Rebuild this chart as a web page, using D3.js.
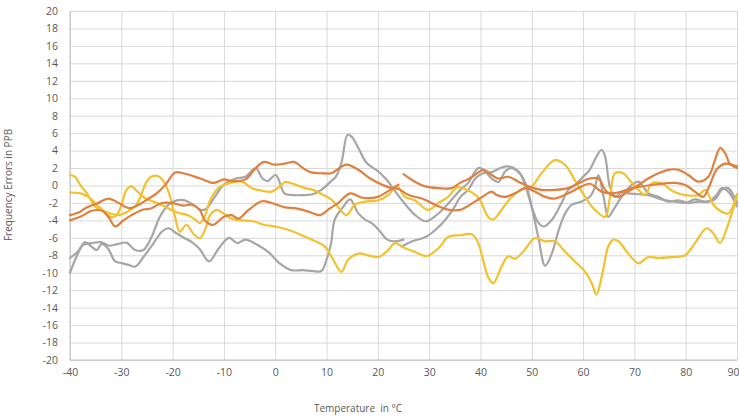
<!DOCTYPE html>
<html>
<head>
<meta charset="utf-8">
<script src="https://cdn.jsdelivr.net/npm/d3@7"></script>
<style>
  html, body { margin: 0; padding: 0; background: #fff; }
  svg { display: block; }
  text { font-family: "Open Sans", "Liberation Sans", sans-serif; fill: #595959; }
</style>
</head>
<body>
<svg id="chart" width="739" height="418"></svg>
<script>
// Axis ticks
const xTicks = [-40, -30, -20, -10, 0, 10, 20, 30, 40, 50, 60, 70, 80, 90];
const yTicks = d3.range(-20, 21, 2);

// Frequency error curves, [temperature °C, error PPB]
const yellowA = [[-40,1.2],[-39,1.0],[-38,0.06],[-36.7,-0.9],[-35.1,-2.4],[-33.8,-2.8],[-32.2,-3.2],[-30.5,-3.4],[-28.8,-3.0],[-27.3,-2.4],[-26.2,-1.2],[-25.2,0.3],[-24.2,1.0],[-23,1.1],[-21.8,0.5],[-20.7,-0.9],[-19.6,-3.4],[-18.6,-5.3],[-17.3,-4.5],[-16,-5.5],[-14.7,-6.05],[-13.7,-5.1],[-12.7,-3.4],[-11.4,-2.8],[-10.1,-3.2],[-8.5,-3.8],[-6.5,-4.0],[-4.3,-4.1],[-2.3,-4.5],[0,-4.7],[2.6,-5.1],[5.2,-5.7],[7.8,-6.4],[9.7,-7.0],[11.3,-8.5],[12.9,-9.9],[14.2,-8.5],[16.2,-7.8],[18.1,-8.0],[20.1,-8.2],[22,-7.4],[23.3,-6.6],[25.3,-7.2],[27.2,-7.6],[29.5,-8.1],[31.8,-7.2],[33.7,-5.9],[36,-5.7],[38.3,-5.6],[39.5,-6.5],[40.5,-8.5],[41.5,-10.5],[42.5,-11.2],[44.1,-9.3],[45.4,-8.1],[46.7,-8.4],[48.3,-7.6],[50.6,-6.05],[52.6,-6.4],[54.5,-6.4],[56.5,-7.6],[58.4,-8.7],[60.4,-9.9],[61.7,-11.2],[62.6,-12.5],[63.9,-9.7],[64.9,-7.0],[65.9,-6.2],[66.9,-6.4],[68.8,-7.8],[70.8,-8.9],[72.7,-8.2],[74.7,-8.3],[77.3,-8.2],[79.9,-8.0],[81.8,-6.6],[84.1,-4.9],[85.4,-5.5],[86.7,-6.6],[88,-4.9],[89.3,-2.6],[90,-1.0]];

const yellowB = [[-40,-0.8],[-38,-0.9],[-36.4,-1.3],[-35.1,-2.0],[-33.5,-2.9],[-32,-3.6],[-30.9,-3.4],[-29.8,-1.9],[-29,-0.5],[-28,-0.1],[-27,-0.6],[-25.5,-1.4],[-23.5,-1.9],[-21.5,-2.4],[-20,-2.9],[-18.5,-3.2],[-17,-3.4],[-15.6,-3.9],[-14.7,-4.3],[-13.7,-3.5],[-12.7,-1.7],[-11.1,-0.3],[-9.1,0.25],[-6.5,0.44],[-4.6,-0.3],[-2.6,-0.6],[-0.7,-0.7],[0.9,-0.1],[1.9,0.4],[3.9,0.1],[5.8,-0.3],[7.4,-0.5],[9.4,-1.1],[10.7,-1.5],[11.6,-2.0],[13.9,-3.4],[15.5,-2.2],[17.5,-1.85],[20.1,-1.7],[22,-1.1],[23.7,-0.1],[25.3,-1.3],[27.2,-1.7],[29.8,-2.8],[31.8,-2.0],[33.7,-1.3],[35.5,-0.2],[37,-0.4],[39.6,-1.4],[41.5,-3.6],[42.5,-3.9],[44.1,-2.8],[46.1,-1.3],[48,-0.5],[50,-0.1],[51.9,1.4],[54.5,2.9],[56.5,2.35],[58.4,0.6],[60.4,-1.3],[62,-2.6],[64.3,-3.6],[65.2,-1.5],[66.2,1.4],[67.8,1.4],[69.1,0.6],[70.8,-0.5],[72.1,-1.1],[73.4,0.25],[75.3,0.25],[77.6,-0.7],[79.9,-1.1],[82.5,-1.1],[83.8,-0.5],[85.4,-2.2],[87,-3.0],[88.3,-3.2],[90,-1.0]];

const orangeA = [[-40,-3.4],[-38,-3.0],[-37,-2.6],[-34.5,-2.0],[-32.5,-1.5],[-30.5,-2.0],[-28.6,-2.6],[-26.6,-2.2],[-24.7,-1.5],[-23.1,-0.9],[-21.4,0.1],[-19.5,1.5],[-17.9,1.4],[-14.6,0.8],[-12,0.3],[-10,0.7],[-8.4,0.5],[-5.8,0.7],[-3.8,2.0],[-2.2,2.7],[-0.2,2.4],[1.8,2.5],[3.7,2.7],[5.4,2.0],[7,1.5],[9.3,1.4],[10.9,1.4],[12,1.8],[13.9,2.4],[16.2,1.8],[18.5,0.8],[20.8,0.1],[22.7,-0.3],[24,-0.4],[26,-1.1],[28.6,-1.5],[31.2,-2.2],[33.2,-2.7],[36,-2.8],[38.9,-1.85],[40.9,-1.1],[42.2,-0.7],[43.2,-1.1],[44.8,-1.3],[46.7,-0.9],[48.7,-0.3],[50.6,-0.7],[52.6,-1.3],[54.5,-1.5],[57.1,-0.9],[59.1,-0.3],[61.3,0.2],[63.6,-0.7],[65.6,-0.9],[67.5,-0.7],[69.5,-0.3],[71.4,-0.1],[73.4,0.06],[76,0.25],[77.9,0.3],[79.9,0.06],[81.8,-0.7],[83.4,-1.3],[84.7,0.06],[86,1.8],[87.7,2.5],[88.9,2.4],[90,2.2]];

const orangeB = [[-40,-4.0],[-37.7,-3.5],[-35.8,-2.9],[-33.8,-2.9],[-32.5,-3.6],[-31.2,-4.7],[-29.6,-4.0],[-28,-3.4],[-26,-2.8],[-24.1,-2.6],[-22.1,-2.0],[-20.2,-2.0],[-17.9,-2.3],[-16.2,-2.2],[-14.7,-2.8],[-13.7,-4.0],[-12.1,-4.5],[-10.1,-3.6],[-8.5,-3.4],[-7.2,-3.8],[-5.2,-2.8],[-2.6,-1.8],[-0.7,-2.0],[1.9,-2.5],[3.9,-2.6],[6.5,-3.0],[8.7,-3.4],[10.7,-2.6],[12.3,-2.0],[14.6,-0.9],[17,-1.4],[20,-1.3],[22.4,-0.5],[24,0.1]];

const orangeC = [[25,1.3],[27.3,0.4],[29.2,-0.1],[31.8,-0.3],[34.4,-0.3],[36,0.3],[37.5,0.7],[38.9,1.2],[40.6,1.8],[42.2,1.2],[43.5,0.8],[45.4,1.0],[47.4,0.44],[49.3,-0.1],[51.9,-0.5],[54.5,-0.5],[57.1,-0.3],[59.1,0.25],[61.3,0.8],[63,0.8],[64.3,-0.5],[65.6,-1.1],[66.9,-1.3],[68.8,-0.7],[70.8,0.06],[72.7,0.8],[74.7,1.4],[76.6,1.8],[78.6,1.8],[80.5,1.2],[82.5,0.44],[84.4,1.0],[85.7,2.9],[86.7,4.3],[87.7,3.7],[88.6,2.5],[90,2.0]];

const grayA = [[-40,-10],[-38.7,-8.1],[-37.4,-6.8],[-35.8,-6.6],[-33.8,-6.5],[-32.5,-6.9],[-30.6,-6.7],[-29,-6.55],[-27.3,-7.4],[-25.7,-7.4],[-24.1,-5.9],[-22.5,-3.6],[-20.8,-2.2],[-19.2,-1.7],[-17.6,-1.7],[-16,-2.2],[-14.5,-2.8],[-13.5,-2.7],[-12,-1.5],[-10,0.1],[-7.7,0.8],[-5.8,1.0],[-3.8,2.0],[-2.5,0.8],[-1.5,0.5],[0.1,1.2],[1.8,-0.9],[3.4,-1.1],[5.4,-1.1],[7.3,-1.0],[9,-0.5],[10.9,0.5],[11.8,1.0],[12.9,2.6],[14.1,5.8],[14.9,5.6],[16.2,4.3],[17.8,2.6],[20.1,1.6],[21.8,0.6],[23.4,-0.7],[25.4,-2.2],[27.3,-3.4],[29.3,-4.1],[31.2,-3.5],[33.2,-2.4],[36.1,-0.5],[37.6,0.3],[39.6,2.0],[40.6,1.8],[42.2,0.8],[43.5,0.4],[44.8,1.6],[46,2.0],[47.5,1.5],[48.8,0.2],[50,-2.5],[51.3,-6.0],[52.6,-9.2],[53.9,-7.8],[55.2,-5.2],[56.5,-3.2],[57.8,-2.2],[59.4,-1.9],[61.3,-1.3],[62.3,-0.2],[63,1.2],[64,-1.3],[64.9,-3.6],[65.9,-2.8],[67.5,-1.3],[69.5,0.06],[70.8,0.44],[71.7,-0.1],[72.7,-0.9],[74.7,-1.3],[76.6,-1.85],[78.6,-1.7],[80.5,-2.0],[82.5,-1.85],[84.4,-1.85],[86,-1.1],[87,-0.3],[88.3,-0.7],[90,-2.4]];

const grayB = [[-40,-8.3],[-38.5,-7.6],[-37.1,-6.5],[-35.8,-7.0],[-34.8,-7.4],[-33.8,-6.7],[-32.5,-7.3],[-31.2,-8.7],[-29.9,-8.9],[-28.6,-9.1],[-27.3,-9.3],[-25.7,-8.2],[-23.7,-6.6],[-22.1,-5.3],[-20.8,-4.9],[-19.2,-5.5],[-17.6,-6.05],[-16,-6.6],[-14.7,-7.3],[-12.9,-8.7],[-11,-7.2],[-9,-6.0],[-7.4,-6.6],[-5.8,-6.2],[-3.5,-6.8],[-1.2,-7.7],[0.8,-8.9],[3.1,-9.7],[5.4,-9.7],[7.3,-9.8],[9,-9.8],[10,-8.5],[10.9,-6.6],[11.6,-3.9],[13.3,-2.4],[14.6,-1.6],[16.2,-3.2],[17.5,-3.9],[18.8,-4.3],[20.5,-5.3],[21.8,-6.2],[23.4,-6.4],[25,-6.2]];

const grayC = [[24.7,-7.0],[26.7,-6.4],[29.3,-5.9],[31.2,-5.1],[33.2,-3.9],[34.8,-2.6],[36.1,-1.3],[37.6,-0.5],[39,0.8],[40.5,1.4],[42,1.5],[43.5,1.9],[45,2.2],[46.5,2.0],[47.8,1.3],[49,-0.5],[50.2,-2.8],[51.2,-4.2],[52.3,-4.7],[53.9,-3.95],[55.8,-2.0],[57.1,-0.5],[58.4,0.06],[60,1.0],[61.3,1.8],[62.5,3.2],[63.6,4.1],[64.3,3.3],[65.2,-0.1],[66.2,-1.3],[67.5,-0.8],[68.8,-0.9],[70.8,-1.0],[72.7,-1.1],[75.3,-1.6],[77.9,-1.85],[79.9,-2.0],[81.8,-1.6],[83.8,-1.85],[85.7,-1.6],[87,-0.5],[88.3,-0.3],[90,-2.0]];

const seriesColors = { yellow: "#F2C12E", orange: "#E0803F", gray: "#A6A6A6" };

const svg = d3.select("#chart");
const x = d3.scaleLinear().domain([-40, 90]).range([70, 737]);
const y = d3.scaleLinear().domain([-20, 20]).range([360, 11]);
const plainNumber = d => String(d);

// Gridlines
svg.append("g")
  .attr("transform", "translate(70,0)")
  .call(d3.axisLeft(y).tickValues(yTicks).tickSize(-(737 - 70)).tickFormat(""))
  .call(g => g.select(".domain").remove())
  .call(g => g.selectAll("line").attr("stroke", "#D9D9D9").attr("stroke-width", 1));

svg.append("g")
  .attr("transform", "translate(0,360)")
  .call(d3.axisBottom(x).tickValues(xTicks).tickSize(-(360 - 11)).tickFormat(""))
  .call(g => g.select(".domain").remove())
  .call(g => g.selectAll("line").attr("stroke", "#D9D9D9").attr("stroke-width", 1));

// Axis lines
svg.append("line").attr("x1", 70).attr("x2", 70).attr("y1", 11).attr("y2", 360)
  .attr("stroke", "#BFBFBF");
svg.append("line").attr("x1", 70).attr("x2", 737).attr("y1", 360).attr("y2", 360)
  .attr("stroke", "#BFBFBF");

// Tick labels
const yAxis = svg.append("g").attr("transform", "translate(70,0)")
  .call(d3.axisLeft(y).tickValues(yTicks).tickSize(0).tickPadding(12).tickFormat(plainNumber));
yAxis.select(".domain").remove();
yAxis.selectAll("text").style("font-size", "10.5px").attr("fill", "#6b6b6b")
  .style("font-family", "'Open Sans', sans-serif");

const xAxis = svg.append("g").attr("transform", "translate(0,360)")
  .call(d3.axisBottom(x).tickValues(xTicks).tickSize(0).tickPadding(9).tickFormat(plainNumber));
xAxis.select(".domain").remove();
xAxis.selectAll("text").style("font-size", "10.5px").attr("fill", "#6b6b6b")
  .style("font-family", "'Open Sans', sans-serif");
// keep the last label inside the page edge
xAxis.selectAll(".tick").filter(d => d === 90).select("text")
  .attr("text-anchor", "end").attr("x", 2);

// Curves
const line = d3.line()
  .x(d => x(d[0]))
  .y(d => y(d[1]))
  .curve(d3.curveCatmullRom.alpha(0.5));

const series = [
  { data: grayA, color: seriesColors.gray },
  { data: grayB, color: seriesColors.gray },
  { data: grayC, color: seriesColors.gray },
  { data: yellowA, color: seriesColors.yellow },
  { data: yellowB, color: seriesColors.yellow },
  { data: orangeA, color: seriesColors.orange },
  { data: orangeB, color: seriesColors.orange },
  { data: orangeC, color: seriesColors.orange }
];

svg.append("g").selectAll("path")
  .data(series)
  .join("path")
  .attr("d", s => line(s.data))
  .attr("fill", "none")
  .attr("stroke", s => s.color)
  .attr("stroke-width", 2.2)
  .attr("stroke-linejoin", "round")
  .attr("stroke-linecap", "round");

// Axis titles
svg.append("text")
  .attr("transform", "translate(12,185) rotate(-90)")
  .attr("text-anchor", "middle")
  .style("font-size", "10px")
  .attr("fill", "#595959")
  .text("Frequency Errors in PPB");

svg.append("text")
  .attr("x", 358).attr("y", 412)
  .attr("text-anchor", "middle")
  .style("font-size", "10px")
  .attr("fill", "#595959")
  .attr("xml:space", "preserve")
  .style("white-space", "pre")
  .text("Temperature  in °C");
</script>
</body>
</html>
